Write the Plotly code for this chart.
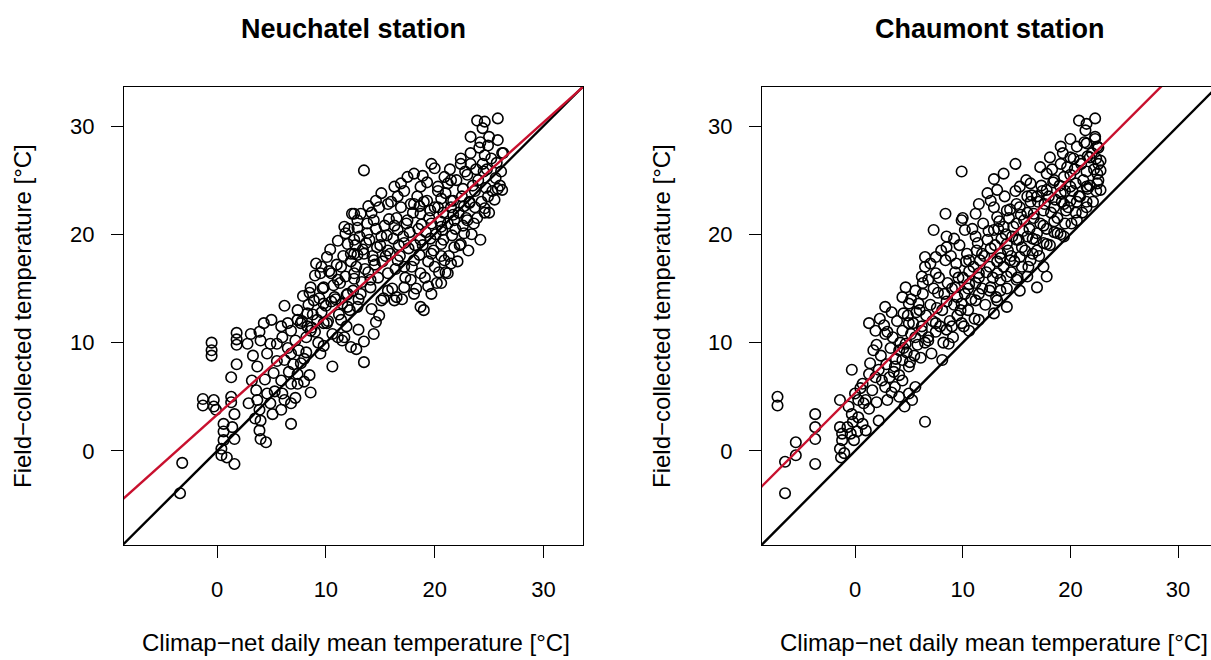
import plotly.graph_objects as go

# ---------------- Neuchatel station (x = Climap-net, y = field-collected) ----------------
neu_cold = [(-3.2, -1.1), (-3.4, -3.9), (-1.3, 4.8), (-1.3, 4.2), (-0.3, 4.7), (-0.3, 4.1),
            (-0.5, 10.0), (-0.5, 9.3), (-0.5, 8.8), (1.8, 10.9), (1.8, 10.3), (1.8, 9.8),
            (1.8, 8.0), (1.3, 6.8), (1.3, 5.0), (1.3, 4.5), (1.6, 3.4), (0.6, 2.5), (0.6, 1.8),
            (0.6, 1.0), (0.4, 0.2), (0.4, -0.4), (1.4, 2.2), (1.6, 1.1), (1.6, -1.2),
            (0.9, -0.6), (-0.1, 3.8)]
neu_cool = [(3.1, 10.8), (3.9, 11.0), (4.0, 10.2), (4.3, 11.8), (4.9, 9.9), (3.7, 7.8), (3.2, 6.5),
            (3.6, 5.6), (3.7, 4.7), (3.9, 3.8), (4.0, 2.8), (3.9, 1.9), (4.0, 1.1), (4.6, 5.3),
            (4.9, 4.4), (5.1, 3.4), (5.9, 3.8), (6.8, 2.5), (6.2, 4.7), (6.8, 4.4), (5.9, 6.5),
            (6.8, 6.2), (7.4, 6.2), (7.4, 7.1), (8.5, 7.0), (8.6, 5.4), (7.7, 8.1), (8.2, 9.1),
            (10.6, 7.8), (6.2, 8.4), (6.8, 9.0), (4.6, 9.0), (5.5, 9.9), (5.9, 11.5), (6.8, 11.1),
            (7.7, 11.8), (8.6, 11.1), (9.8, 11.8), (11.1, 10.5), (12.3, 9.6), (11.5, 10.2),
            (6.5, 11.8), (7.4, 12.1), (8.3, 11.5), (9.2, 12.1), (10.1, 11.8), (11.4, 12.1),
            (11.7, 10.5), (13.5, 8.2), (13.5, 10.1), (14.4, 10.8), (14.6, 11.9), (12.8, 9.4),
            (6.5, 9.5), (7.2, 10.2), (5.5, 8.3), (7.0, 8.0), (5.2, 7.2), (9.5, 9.0)]
neu_mild = [(12.4, 21.9), (11.7, 20.7), (11.8, 20.1), (12.0, 19.1), (12.3, 18.2), (9.1, 17.3),
            (10.1, 17.9), (9.5, 16.4), (10.5, 16.4), (8.6, 15.1), (9.8, 15.1), (11.1, 15.8),
            (8.9, 13.9), (9.8, 13.6), (10.8, 14.2), (11.4, 17.0), (6.2, 13.4), (7.4, 13.0),
            (8.3, 12.7), (12.0, 14.5), (12.0, 13.3), (13.5, 25.9)]
neu_warm = [(23.9, 30.5), (24.6, 30.4), (24.4, 29.8), (25.8, 30.7), (23.3, 29.0), (24.2, 28.5),
            (24.9, 28.2), (25.8, 28.7), (26.2, 27.5), (26.1, 25.8), (25.8, 24.2), (26.2, 24.1),
            (24.9, 23.5), (24.6, 22.4), (23.2, 22.9), (23.0, 21.3), (22.7, 20.1), (22.4, 19.1),
            (21.8, 18.8), (21.5, 17.3), (21.2, 16.4), (20.6, 15.5), (19.7, 14.5), (18.7, 13.3),
            (18.1, 14.5), (19.0, 13.0), (17.2, 15.1), (16.3, 13.9), (15.7, 14.8), (15.1, 13.9),
            (14.1, 15.1), (13.2, 14.5), (12.9, 13.3), (15.1, 23.8), (16.3, 24.4), (17.5, 25.3),
            (18.1, 25.6), (19.7, 26.5), (20.0, 26.1), (20.9, 25.3), (21.5, 25.0), (22.4, 27.0),
            (23.3, 26.5), (13.2, 21.9), (12.9, 21.3), (14.4, 21.3), (15.7, 22.8), (16.6, 23.5),
            (18.7, 24.4), (20.3, 24.4), (18.1, 22.8), (19.3, 23.1), (13.8, 20.1), (15.1, 19.8),
            (16.6, 20.4), (17.5, 21.3), (18.7, 21.9), (20.3, 22.5), (21.5, 23.1), (15.7, 18.5),
            (17.2, 19.2), (18.7, 19.5), (20.6, 20.7), (21.8, 21.3), (18.1, 17.6), (19.7, 18.2),
            (20.6, 19.1), (18.7, 16.4), (20.0, 17.0), (20.9, 17.6), (17.2, 17.0), (15.7, 16.4),
            (14.4, 17.6), (13.5, 18.2), (12.6, 16.4), (14.1, 15.8), (13.8, 21.0), (12.6, 21.9),
            (12.6, 19.5), (12.6, 18.2)]
neu_band = [(8.2, 10.5), (7.8, 12.0), (8.4, 13.5), (9.3, 10.0), (9.0, 11.0), (8.8, 12.6), (9.4, 14.1),
            (10.2, 12.0), (10.0, 13.4), (9.7, 15.0), (10.3, 16.6), (10.6, 10.8), (11.2, 12.6),
            (10.9, 14.0), (11.3, 15.5), (11.0, 17.2), (11.6, 18.0), (12.2, 13.0), (12.5, 14.8),
            (11.8, 16.1), (12.3, 17.5), (12.7, 19.0), (12.1, 20.5), (13.0, 14.0), (13.3, 15.6),
            (12.8, 17.0), (13.4, 18.6), (13.1, 19.8), (14.2, 13.1), (13.9, 16.5), (14.3, 18.0),
            (14.0, 19.5), (14.6, 20.5), (14.2, 22.0), (15.3, 14.1), (14.8, 16.0), (15.2, 17.5),
            (15.0, 19.0), (15.4, 20.8), (14.9, 22.5), (16.1, 15.0), (16.4, 16.8), (15.9, 18.2),
            (16.2, 19.6), (16.5, 21.5), (16.0, 23.0), (17.0, 14.0), (17.3, 16.0), (16.8, 18.0),
            (17.1, 19.8), (17.4, 21.0), (16.9, 22.5), (17.2, 24.0), (18.3, 15.0), (17.9, 17.0),
            (18.2, 19.0), (18.5, 20.5), (18.0, 22.0), (18.4, 23.5), (19.1, 16.0), (19.4, 17.5),
            (18.9, 19.0), (19.2, 20.2), (19.5, 21.5), (19.0, 23.0), (19.3, 24.8), (20.2, 15.5),
            (20.4, 16.5), (19.9, 18.5), (20.1, 20.0), (20.5, 21.2), (20.0, 22.5), (20.3, 24.0),
            (21.0, 16.5), (21.3, 18.0), (20.8, 19.5), (21.2, 21.0), (21.5, 22.5), (21.0, 23.8),
            (21.4, 26.0), (22.1, 17.5), (22.3, 19.0), (21.9, 20.5), (22.2, 22.0), (22.5, 23.5),
            (22.0, 25.0), (22.4, 26.5), (23.1, 18.5), (23.4, 20.0), (22.9, 21.5), (23.2, 23.0),
            (23.5, 24.5), (23.0, 25.5), (23.3, 27.5), (24.2, 19.5), (23.9, 21.5), (24.3, 23.0),
            (24.0, 25.0), (24.4, 26.5), (24.1, 28.0), (25.0, 22.0), (25.3, 24.0), (24.8, 26.0),
            (25.2, 27.0), (25.0, 29.0), (26.0, 24.5), (26.3, 27.5)]
neu_band2 = [(8.7, 11.4), (9.6, 12.8), (10.5, 13.8), (10.7, 15.3), (11.5, 13.6), (11.9, 14.4),
             (12.6, 15.9), (12.9, 18.1), (13.6, 16.8), (13.7, 19.2), (14.5, 17.2), (14.7, 18.8),
             (15.5, 18.0), (15.6, 19.9), (15.8, 21.4), (16.6, 17.6), (16.7, 19.0), (16.3, 20.8),
             (17.6, 18.7), (17.7, 20.2), (17.8, 22.8), (18.6, 18.1), (18.8, 20.9), (18.6, 22.6),
             (19.6, 19.6), (19.7, 21.0), (19.6, 22.2), (20.6, 18.0), (20.7, 20.4), (20.8, 22.0),
             (20.6, 23.3), (21.6, 19.9), (21.7, 21.8), (21.7, 23.1), (21.2, 24.7), (22.6, 20.8),
             (22.7, 22.6), (22.6, 24.2), (22.8, 25.8), (23.6, 21.0), (23.7, 22.5), (23.7, 24.0),
             (23.8, 26.0), (24.6, 22.0), (24.7, 24.3), (24.5, 25.8), (24.6, 27.3), (25.5, 23.2),
             (25.6, 25.2), (25.7, 26.6), (9.8, 9.7), (11.9, 11.5), (13.0, 11.2), (14.9, 12.5),
             (16.5, 14.2), (17.8, 15.8), (19.4, 15.2), (9.0, 16.2), (10.4, 18.6), (11.1, 19.4),
             (12.9, 20.6), (13.9, 22.6), (14.6, 23.1), (16.9, 24.7), (18.9, 25.4), (7.5, 9.3),
             (8.0, 8.5), (5.3, 5.5), (4.4, 6.6), (3.3, 8.8), (2.8, 9.9), (6.0, 10.5), (5.0, 12.1),
             (7.9, 14.3), (8.5, 14.6), (9.6, 17.0), (6.6, 7.3), (3.5, 3.0), (2.9, 4.4), (4.5, 0.8),
             (6.0, 5.3), (7.2, 4.9), (8.0, 6.4)]

# ---------------- Chaumont station ----------------
cha_cold = [(-7.2, 5.0), (-7.2, 4.2), (-6.5, -3.9), (-6.5, -1.0), (-5.5, 0.8), (-5.5, -0.4),
            (-3.7, 3.4), (-3.7, 2.2), (-3.7, 1.1), (-3.7, -1.2), (-1.4, 4.7), (-1.4, 2.2),
            (-1.2, 1.6), (-1.2, 1.0), (-1.4, 0.2), (-1.3, -0.6), (-0.7, 2.2), (-0.4, 1.6),
            (-0.1, 1.0), (-0.3, 7.5), (-0.6, 4.1), (-0.3, 3.4), (0.3, 3.1), (0.7, 2.5), (1.0, 1.9),
            (0.0, 5.3), (0.3, 4.7), (0.8, 4.4), (1.3, 3.9), (2.2, 2.8), (6.5, 2.7)]
cha_cool = [(1.3, 11.8), (1.9, 11.1), (2.7, 11.6), (2.8, 10.8), (1.7, 9.3), (1.4, 8.1), (1.3, 7.1),
            (1.9, 6.8), (2.2, 7.5), (2.5, 6.5), (2.8, 5.9), (0.7, 6.2), (1.0, 4.7), (3.7, 5.9),
            (4.4, 6.5), (5.0, 5.3), (5.6, 5.9), (4.1, 5.0), (5.3, 4.7), (3.7, 7.8), (4.4, 8.4),
            (5.0, 7.8), (4.1, 9.3), (4.7, 9.9), (4.4, 11.1), (5.0, 11.8), (5.6, 10.5), (6.2, 11.1),
            (6.8, 10.2), (7.5, 11.8), (8.1, 8.4), (8.7, 9.9), (9.0, 11.5), (9.9, 11.8), (10.6, 11.1),
            (11.5, 12.1)]
cha_mild = [(9.9, 25.8), (8.4, 21.9), (7.3, 20.4), (8.5, 19.8), (8.5, 18.8), (9.9, 21.3), (10.2, 20.4),
            (11.2, 21.9), (11.5, 22.8), (12.3, 23.8), (6.5, 17.9), (7.5, 17.9), (8.4, 17.6), (6.5, 17.0),
            (6.2, 16.1), (6.8, 15.8), (7.5, 16.4), (5.6, 14.8), (4.7, 15.1), (4.4, 14.2), (5.0, 13.6),
            (5.9, 13.6), (2.8, 13.3), (4.5, 12.7), (9.3, 15.1), (10.6, 17.6), (10.6, 15.4),
            (11.2, 19.8), (11.8, 18.2), (11.5, 16.4), (9.9, 13.6), (11.2, 13.9)]
cha_warm = [(20.8, 30.5), (21.5, 30.2), (22.3, 30.7), (21.4, 29.6), (20.0, 28.8), (20.6, 28.1),
            (21.5, 28.4), (22.3, 28.8), (22.5, 28.1), (19.1, 28.1), (18.1, 27.1), (19.1, 26.5),
            (20.0, 27.1), (20.9, 26.8), (21.8, 27.1), (22.8, 26.8), (22.8, 25.9), (22.5, 24.7),
            (22.8, 24.1), (21.5, 24.4), (20.9, 23.5), (21.5, 22.5), (20.6, 21.3), (19.4, 19.8),
            (18.8, 20.1), (17.8, 19.1), (16.9, 18.5), (17.5, 17.0), (17.8, 16.1), (16.9, 15.1),
            (15.3, 14.8), (14.1, 13.3), (13.2, 13.9), (12.9, 12.7), (14.9, 26.5), (13.8, 25.6),
            (12.9, 25.1), (13.2, 24.1), (12.6, 23.1), (15.3, 24.4), (16.3, 24.7), (17.2, 26.2),
            (17.8, 25.6), (18.5, 25.0), (19.4, 25.3), (20.0, 24.4), (19.1, 23.8), (17.8, 24.1),
            (16.9, 23.5), (16.0, 23.5), (15.0, 22.8), (14.1, 22.2), (13.2, 21.6), (12.9, 20.4),
            (13.8, 20.7), (14.7, 20.7), (15.7, 21.3), (16.6, 21.9), (17.5, 22.2), (18.5, 22.5),
            (19.4, 22.8), (20.0, 23.1), (14.1, 19.1), (15.0, 19.5), (16.0, 19.8), (16.9, 20.1),
            (13.5, 18.2), (14.4, 17.6), (15.3, 17.9), (16.3, 17.6), (13.2, 16.4), (14.1, 16.1),
            (15.0, 15.8), (16.0, 16.1), (12.6, 15.1), (13.5, 14.8)]
cha_band = [(3.2, 6.8), (2.9, 8.0), (3.3, 9.5), (3.0, 11.0), (4.1, 7.0), (3.8, 8.5), (4.2, 10.0),
            (3.9, 12.0), (5.1, 8.2), (4.8, 9.1), (5.2, 10.8), (4.9, 12.5), (6.1, 8.6), (5.8, 9.8),
            (6.2, 11.5), (6.0, 13.0), (6.3, 14.5), (7.1, 9.0), (6.8, 10.5), (7.2, 12.0), (7.0, 13.5),
            (7.3, 15.0), (8.2, 10.0), (7.9, 11.5), (8.1, 13.0), (8.3, 14.5), (7.8, 16.0), (9.1, 10.5),
            (8.8, 12.0), (9.2, 13.5), (9.0, 15.0), (9.3, 16.5), (8.9, 18.0), (10.1, 11.5), (9.8, 13.0),
            (10.2, 14.5), (10.0, 16.0), (10.3, 17.5), (9.7, 19.0), (11.1, 12.2), (10.8, 14.0),
            (11.2, 15.5), (11.0, 17.0), (11.3, 18.5), (10.9, 20.5), (12.1, 13.5), (11.8, 15.0),
            (12.2, 16.5), (12.0, 18.0), (12.3, 19.5), (11.9, 21.0), (13.1, 14.2), (12.8, 16.0),
            (13.2, 17.5), (13.0, 19.0), (13.3, 20.5), (12.9, 22.5), (14.1, 15.0), (13.8, 17.0),
            (14.2, 18.5), (14.0, 20.0), (14.3, 21.5), (13.9, 23.5), (15.1, 16.0), (14.8, 17.5),
            (15.2, 19.5), (15.0, 21.0), (15.3, 22.5), (14.9, 24.0), (16.1, 17.0), (15.8, 18.5),
            (16.2, 20.5), (16.0, 22.0), (16.3, 23.0), (15.9, 25.0), (17.1, 18.0), (16.8, 19.5),
            (17.2, 21.0), (17.0, 23.0), (17.3, 24.5), (18.1, 19.0), (17.8, 20.5), (18.2, 22.0),
            (18.0, 23.5), (18.3, 26.0), (19.1, 20.0), (18.8, 21.5), (19.2, 23.0), (19.0, 24.5),
            (19.3, 27.5), (20.1, 21.0), (19.8, 22.5), (20.2, 24.0), (20.0, 25.5), (20.3, 27.0),
            (21.1, 22.0), (20.8, 23.5), (21.2, 25.0), (21.0, 26.5), (21.3, 28.5), (22.1, 23.0),
            (21.8, 24.5), (22.2, 26.0), (22.0, 27.5), (22.3, 29.0), (22.6, 25.0), (22.6, 26.5),
            (22.6, 28.0)]
cha_band2 = [(2.4, 8.8), (3.5, 10.5), (3.6, 7.3), (4.5, 9.5), (5.5, 8.8), (5.4, 11.8), (5.7, 12.8),
             (6.5, 10.0), (6.6, 12.5), (7.5, 11.0), (7.6, 13.2), (7.7, 14.6), (8.5, 11.2), (8.5, 13.8),
             (8.6, 15.5), (9.5, 12.5), (9.5, 14.2), (9.6, 16.0), (9.4, 17.3), (10.5, 13.0), (10.5, 15.0),
             (10.6, 16.6), (10.4, 18.2), (11.5, 14.5), (11.5, 16.0), (11.6, 17.6), (11.4, 19.2),
             (12.5, 14.8), (12.5, 17.0), (12.6, 18.7), (12.4, 20.3), (13.5, 15.8), (13.5, 17.8),
             (13.6, 19.6), (13.4, 21.2), (14.5, 16.5), (14.5, 18.0), (14.6, 19.8), (14.4, 22.3),
             (15.5, 17.0), (15.5, 18.8), (15.6, 20.3), (15.4, 21.8), (16.5, 18.2), (16.5, 19.6),
             (16.6, 21.5), (16.4, 23.6), (17.5, 19.2), (17.5, 20.8), (17.6, 22.8), (17.4, 24.0),
             (18.5, 20.2), (18.5, 21.2), (18.6, 23.2), (18.4, 24.8), (19.5, 21.0), (19.6, 22.2),
             (19.5, 24.0), (19.7, 26.2), (20.5, 22.0), (20.6, 23.0), (20.5, 24.7), (20.4, 26.0),
             (21.5, 23.0), (21.6, 24.2), (21.5, 25.8), (21.6, 27.2), (22.4, 24.0), (22.5, 25.6),
             (22.4, 27.0), (2.0, 9.8), (2.3, 12.2), (3.4, 12.8), (5.2, 14.0), (6.3, 15.5), (7.0, 17.3),
             (8.0, 18.5), (9.2, 19.6), (10.0, 21.5), (3.0, 4.7), (3.4, 5.4), (2.0, 4.5), (1.6, 5.6),
             (0.5, 5.8), (-0.2, 2.7), (0.2, 1.8), (-1.0, -0.2), (4.6, 4.1)]

# regression lines (intercept, slope) and 1:1 line
neu_fit = (3.34, 0.90)
cha_fit = (5.35, 0.995)
one_to_one = (0.0, 1.0)

tick_vals = [0, 10, 20, 30]
tick_text = ["0", "10", "20", "30"]

x_title = "Climap\u2212net daily mean temperature [\u00b0C]"
y_title = "Field\u2212collected temperature [\u00b0C]"
titles = ["Neuchatel station", "Chaumont station"]

neu_xrange = [-8.55, 33.63]
cha_xrange = [-8.64, 33.06]
yrange = [-8.68, 33.6]


def unzip(*groups):
    xs, ys = [], []
    for g in groups:
        for a, b in g:
            xs.append(a)
            ys.append(b)
    return xs, ys


neu_x, neu_y = unzip(neu_cold, neu_cool, neu_mild, neu_warm, neu_band, neu_band2)
cha_x, cha_y = unzip(cha_cold, cha_cool, cha_mild, cha_warm, cha_band, cha_band2)

W, H = 1211, 660
fig = go.Figure()

marker = dict(symbol="circle-open", size=10.5, color="black", line=dict(width=1.6, color="black"))


def add_panel(xs, ys, fit, xr, xa, ya):
    fig.add_trace(go.Scatter(x=xs, y=ys, mode="markers", marker=marker, xaxis=xa, yaxis=ya,
                             showlegend=False, hoverinfo="skip"))
    lx = [xr[0] - 1, xr[1] + 5]
    a0, b0 = one_to_one
    fig.add_trace(go.Scatter(x=lx, y=[a0 + b0 * v for v in lx], mode="lines",
                             line=dict(color="black", width=2.4), xaxis=xa, yaxis=ya, showlegend=False))
    a, b = fit
    fig.add_trace(go.Scatter(x=lx, y=[a + b * v for v in lx], mode="lines",
                             line=dict(color="#C8102E", width=2.4), xaxis=xa, yaxis=ya, showlegend=False))


add_panel(neu_x, neu_y, neu_fit, neu_xrange, "x", "y")
add_panel(cha_x, cha_y, cha_fit, cha_xrange, "x2", "y2")

font_family = "Liberation Sans, Arial, Helvetica, sans-serif"
axis_common = dict(tickvals=tick_vals, ticktext=tick_text, ticks="outside", ticklen=12, tickwidth=1.3,
                   tickcolor="black", showline=True, linecolor="black", linewidth=1.4,
                   showgrid=False, zeroline=False, tickfont=dict(size=22, color="black"),
                   ticklabelstandoff=12)

ydom = [(H - 545) / H, (H - 87) / H]
fig.update_layout(
    width=W, height=H, margin=dict(l=0, r=0, t=0, b=0),
    paper_bgcolor="white", plot_bgcolor="white",
    font=dict(family=font_family, color="black"),
    xaxis=dict(domain=[124 / W, 583 / W], range=neu_xrange, mirror=True, anchor="y", **axis_common),
    yaxis=dict(domain=ydom, range=yrange, mirror=True, anchor="x", tickangle=0, **axis_common),
    xaxis2=dict(domain=[762 / W, 1.0], range=cha_xrange, mirror=True, anchor="y2", **axis_common),
    yaxis2=dict(domain=ydom, range=yrange, mirror=False, anchor="x2", tickangle=0, **axis_common),
)

ann = []
for cx, t in zip([353.5 / W, 990 / W], titles):
    ann.append(dict(x=cx, y=(H - 29) / H, xref="paper", yref="paper", text="<b>%s</b>" % t,
                    showarrow=False, font=dict(size=27), xanchor="center", yanchor="middle"))
for cx in [356 / W, 994 / W]:
    ann.append(dict(x=cx, y=(H - 642) / H, xref="paper", yref="paper", text=x_title,
                    showarrow=False, font=dict(size=24), xanchor="center", yanchor="middle"))
for cx in [22 / W, 661 / W]:
    ann.append(dict(x=cx, y=(H - 316) / H, xref="paper", yref="paper", text=y_title, textangle=-90,
                    showarrow=False, font=dict(size=24), xanchor="center", yanchor="middle"))
fig.update_layout(annotations=ann)

fig.write_html("out.html")
